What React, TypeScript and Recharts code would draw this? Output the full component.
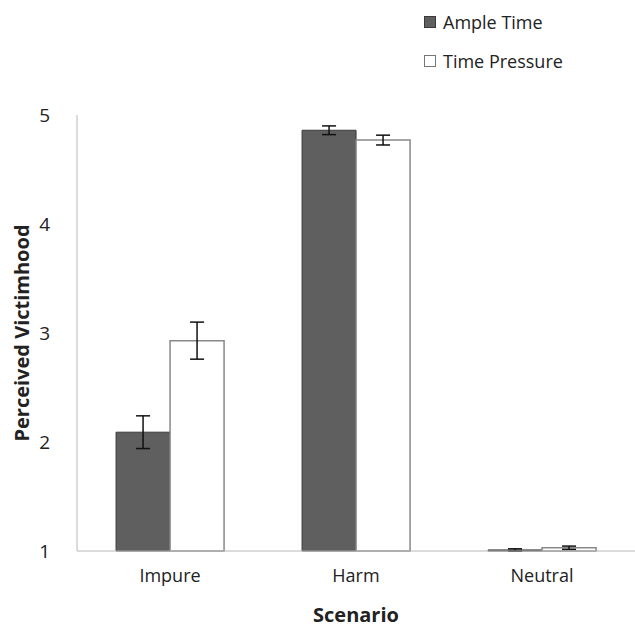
import React from 'react';
import {
  BarChart, Bar, XAxis, YAxis, ErrorBar,
} from 'recharts';

/* ── Data ────────────────────────────────────────────────────────────── */
const scenarios = ['Impure', 'Harm', 'Neutral'];
const ampleTime = [2.09, 4.86, 1.01];
const ampleTimeErr = [0.15, 0.04, 0.01];
const timePressure = [2.93, 4.77, 1.03];
const timePressureErr = [0.17, 0.045, 0.015];
const yTicks = [1, 2, 3, 4, 5];

const data = scenarios.map((name, i) => ({
  name,
  ample: ampleTime[i],
  ampleErr: ampleTimeErr[i],
  pressure: timePressure[i],
  pressureErr: timePressureErr[i],
}));

const FONT = '"Open Sans", sans-serif';
const DARK = '#5f5f5f';

/* ── Legend (top-right, outside the plot) ────────────────────────────── */
function LegendBox() {
  const items = [
    { label: 'Ample Time', fill: DARK, stroke: '#3a3a3a' },
    { label: 'Time Pressure', fill: '#ffffff', stroke: '#777' },
  ];
  return (
    <div style={{ position: 'absolute', left: 424, top: 2, fontFamily: FONT, fontSize: 18, color: '#222' }}>
      {items.map((it) => (
        <div key={it.label} style={{ display: 'flex', alignItems: 'center', height: 39 }}>
          <span
            style={{
              display: 'inline-block', width: 10, height: 10, marginRight: 7,
              background: it.fill, border: `1px solid ${it.stroke}`,
            }}
          />
          {it.label}
        </div>
      ))}
    </div>
  );
}

/* ── Component ───────────────────────────────────────────────────────── */
export default function App() {
  return (
    <div style={{ position: 'absolute', left: 0, top: 0, width: 635, height: 628, background: '#fff' }}>
      <BarChart
        width={635}
        height={628}
        data={data}
        margin={{ top: 115, right: 0, left: 0, bottom: 0 }}
        barCategoryGap="21%"
        barGap={0}
      >
        <XAxis
          dataKey="name"
          height={77}
          axisLine={{ stroke: '#b8b8b8' }}
          tickLine={false}
          tickSize={0}
          tickMargin={18}
          tick={{ fill: '#222', fontSize: 18, fontFamily: FONT }}
          label={{
            value: 'Scenario', position: 'insideBottom', offset: 6,
            style: { fill: '#222', fontSize: 20, fontWeight: 'bold', fontFamily: FONT },
          }}
        />
        <YAxis
          width={77}
          domain={[1, 5]}
          ticks={yTicks}
          axisLine={{ stroke: '#b8b8b8' }}
          tickLine={false}
          tickSize={0}
          tickMargin={27}
          tick={{ fill: '#222', fontSize: 19, fontFamily: FONT }}
          label={{
            value: 'Perceived Victimhood', angle: -90, position: 'insideLeft', offset: 0, dx: 22,
            style: { fill: '#222', fontSize: 20, fontWeight: 'bold', fontFamily: FONT, textAnchor: 'middle' },
          }}
        />
        <Bar dataKey="ample" name="Ample Time" fill={DARK} stroke="#3a3a3a" strokeWidth={1} isAnimationActive={false}>
          <ErrorBar dataKey="ampleErr" width={7} stroke="#111" strokeWidth={1.5} />
        </Bar>
        <Bar dataKey="pressure" name="Time Pressure" fill="#ffffff" stroke="#888" strokeWidth={1.5} isAnimationActive={false}>
          <ErrorBar dataKey="pressureErr" width={7} stroke="#111" strokeWidth={1.5} />
        </Bar>
      </BarChart>
      <LegendBox />
    </div>
  );
}
